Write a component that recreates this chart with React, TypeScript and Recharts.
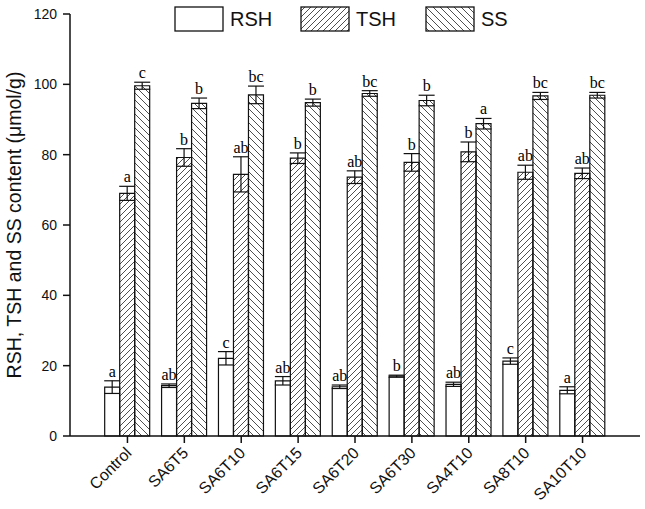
import React from 'react';
import { BarChart, Bar, XAxis, YAxis, ErrorBar, LabelList } from 'recharts';

const categories = ['Control', 'SA6T5', 'SA6T10', 'SA6T15', 'SA6T20', 'SA6T30', 'SA4T10', 'SA8T10', 'SA10T10'];
const rsh = [13.9, 14.3, 22.1, 15.7, 14.0, 17.0, 14.7, 21.3, 13.0];
const rshErr = [1.8, 0.5, 1.9, 1.2, 0.5, 0.3, 0.6, 0.9, 1.0];
const tsh = [69.0, 79.2, 74.4, 79.0, 73.6, 77.8, 80.8, 75.0, 74.7];
const tshErr = [2.0, 2.5, 5.0, 1.5, 1.8, 2.5, 2.8, 2.0, 1.5];
const ss = [99.6, 94.6, 97.0, 94.8, 97.4, 95.4, 88.8, 96.7, 96.9];
const ssErr = [1.0, 1.5, 2.5, 1.0, 0.8, 1.5, 1.5, 1.0, 0.8];
const rshLetters = ['a', 'ab', 'c', 'ab', 'ab', 'b', 'ab', 'c', 'a'];
const tshLetters = ['a', 'b', 'ab', 'b', 'ab', 'b', 'b', 'ab', 'ab'];
const ssLetters = ['c', 'b', 'bc', 'b', 'bc', 'b', 'a', 'bc', 'bc'];
const yTicks = [0, 20, 40, 60, 80, 100, 120];

const data = categories.map((name, i) => ({
  name,
  rsh: rsh[i],
  rshErr: rshErr[i],
  tsh: tsh[i],
  tshErr: tshErr[i],
  ss: ss[i],
  ssErr: ssErr[i],
}));

const sans = 'Arial, "Liberation Sans", sans-serif';
const serif = '"Times New Roman", "Liberation Serif", serif';

// letter label sitting on top of the error bar
function makeLetter(letters: string[], errs: number[]) {
  return (props: any) => {
    const { x, y, width, height, value, index } = props;
    const pxPerUnit = value ? height / value : 0;
    const top = y - errs[index] * pxPerUnit;
    return (
      <text x={x + width / 2} y={top - 4} textAnchor="middle" fontFamily={serif} fontSize={16} fill="#000">
        {letters[index]}
      </text>
    );
  };
}

function XTick(props: any) {
  const { x, y, payload } = props;
  const tx = x + 5;
  const ty = y + 9;
  return (
    <text
      x={tx}
      y={ty}
      transform={`rotate(-45 ${tx} ${ty})`}
      textAnchor="end"
      fontFamily={sans}
      fontSize={16}
      fill="#111"
    >
      {payload.value}
    </text>
  );
}

function YLabel(props: any) {
  const { viewBox } = props;
  const cx = 14;
  const cy = viewBox.y + viewBox.height / 2;
  return (
    <text
      x={cx}
      y={cy}
      transform={`rotate(-90 ${cx} ${cy})`}
      textAnchor="middle"
      dominantBaseline="central"
      fontFamily={sans}
      fontSize={19.5}
      fill="#111"
    >
      RSH, TSH and SS content (μmol/g)
    </text>
  );
}

function PatternDefs() {
  return (
    <defs>
      <pattern id="hatchFwd" width="6" height="6" patternUnits="userSpaceOnUse">
        <path d="M0,6 L6,0 M-1,1 L1,-1 M5,7 L7,5" stroke="#222" strokeWidth={0.8} />
      </pattern>
      <pattern id="hatchBack" width="7" height="7" patternUnits="userSpaceOnUse">
        <path d="M0,0 L7,7 M-1,6 L1,8 M6,-1 L8,1" stroke="#222" strokeWidth={0.8} />
      </pattern>
    </defs>
  );
}

function LegendBox({ fill, label, left }: { fill: string; label: string; left: number }) {
  return (
    <div style={{ position: 'absolute', left, top: 6, display: 'flex', alignItems: 'center' }}>
      <svg width={50} height={26} style={{ display: 'block' }}>
        <rect x={1} y={1} width={48} height={24} fill={fill} stroke="#111" strokeWidth={1.3} />
      </svg>
      <span style={{ marginLeft: 6, fontFamily: sans, fontSize: 20, color: '#111' }}>{label}</span>
    </div>
  );
}

export default function App() {
  return (
    <div style={{ position: 'absolute', left: 0, top: 0, width: 645, height: 509, background: '#fff' }}>
      <BarChart
        width={645}
        height={509}
        data={data}
        margin={{ top: 14, right: 5, bottom: 0, left: 0 }}
        barCategoryGap="10%"
        barGap={0}
      >
        <PatternDefs />
        <XAxis
          dataKey="name"
          height={73}
          padding={{ left: 29, right: 29 }}
          axisLine={{ stroke: '#111', strokeWidth: 1.5 }}
          tickLine={{ stroke: '#111', strokeWidth: 1.5 }}
          tickSize={7}
          tick={<XTick />}
          interval={0}
        />
        <YAxis
          width={70}
          domain={[0, 120]}
          ticks={yTicks}
          interval={0}
          axisLine={{ stroke: '#111', strokeWidth: 1.5 }}
          tickLine={{ stroke: '#111', strokeWidth: 1.5 }}
          tickSize={7}
          tickMargin={6}
          tick={{ fontFamily: sans, fontSize: 14, fill: '#111' }}
          label={<YLabel />}
        />
        <Bar dataKey="rsh" fill="#fff" stroke="#111" strokeWidth={1.2} isAnimationActive={false}>
          <ErrorBar dataKey="rshErr" width={8} stroke="#111" strokeWidth={1.2} />
          <LabelList dataKey="rsh" content={makeLetter(rshLetters, rshErr)} />
        </Bar>
        <Bar dataKey="tsh" fill="url(#hatchFwd)" stroke="#111" strokeWidth={1.2} isAnimationActive={false}>
          <ErrorBar dataKey="tshErr" width={8} stroke="#111" strokeWidth={1.2} />
          <LabelList dataKey="tsh" content={makeLetter(tshLetters, tshErr)} />
        </Bar>
        <Bar dataKey="ss" fill="url(#hatchBack)" stroke="#111" strokeWidth={1.2} isAnimationActive={false}>
          <ErrorBar dataKey="ssErr" width={8} stroke="#111" strokeWidth={1.2} />
          <LabelList dataKey="ss" content={makeLetter(ssLetters, ssErr)} />
        </Bar>
      </BarChart>
      <LegendBox fill="#fff" label="RSH" left={174} />
      <LegendBox fill="url(#hatchFwd)" label="TSH" left={300} />
      <LegendBox fill="url(#hatchBack)" label="SS" left={425} />
    </div>
  );
}
